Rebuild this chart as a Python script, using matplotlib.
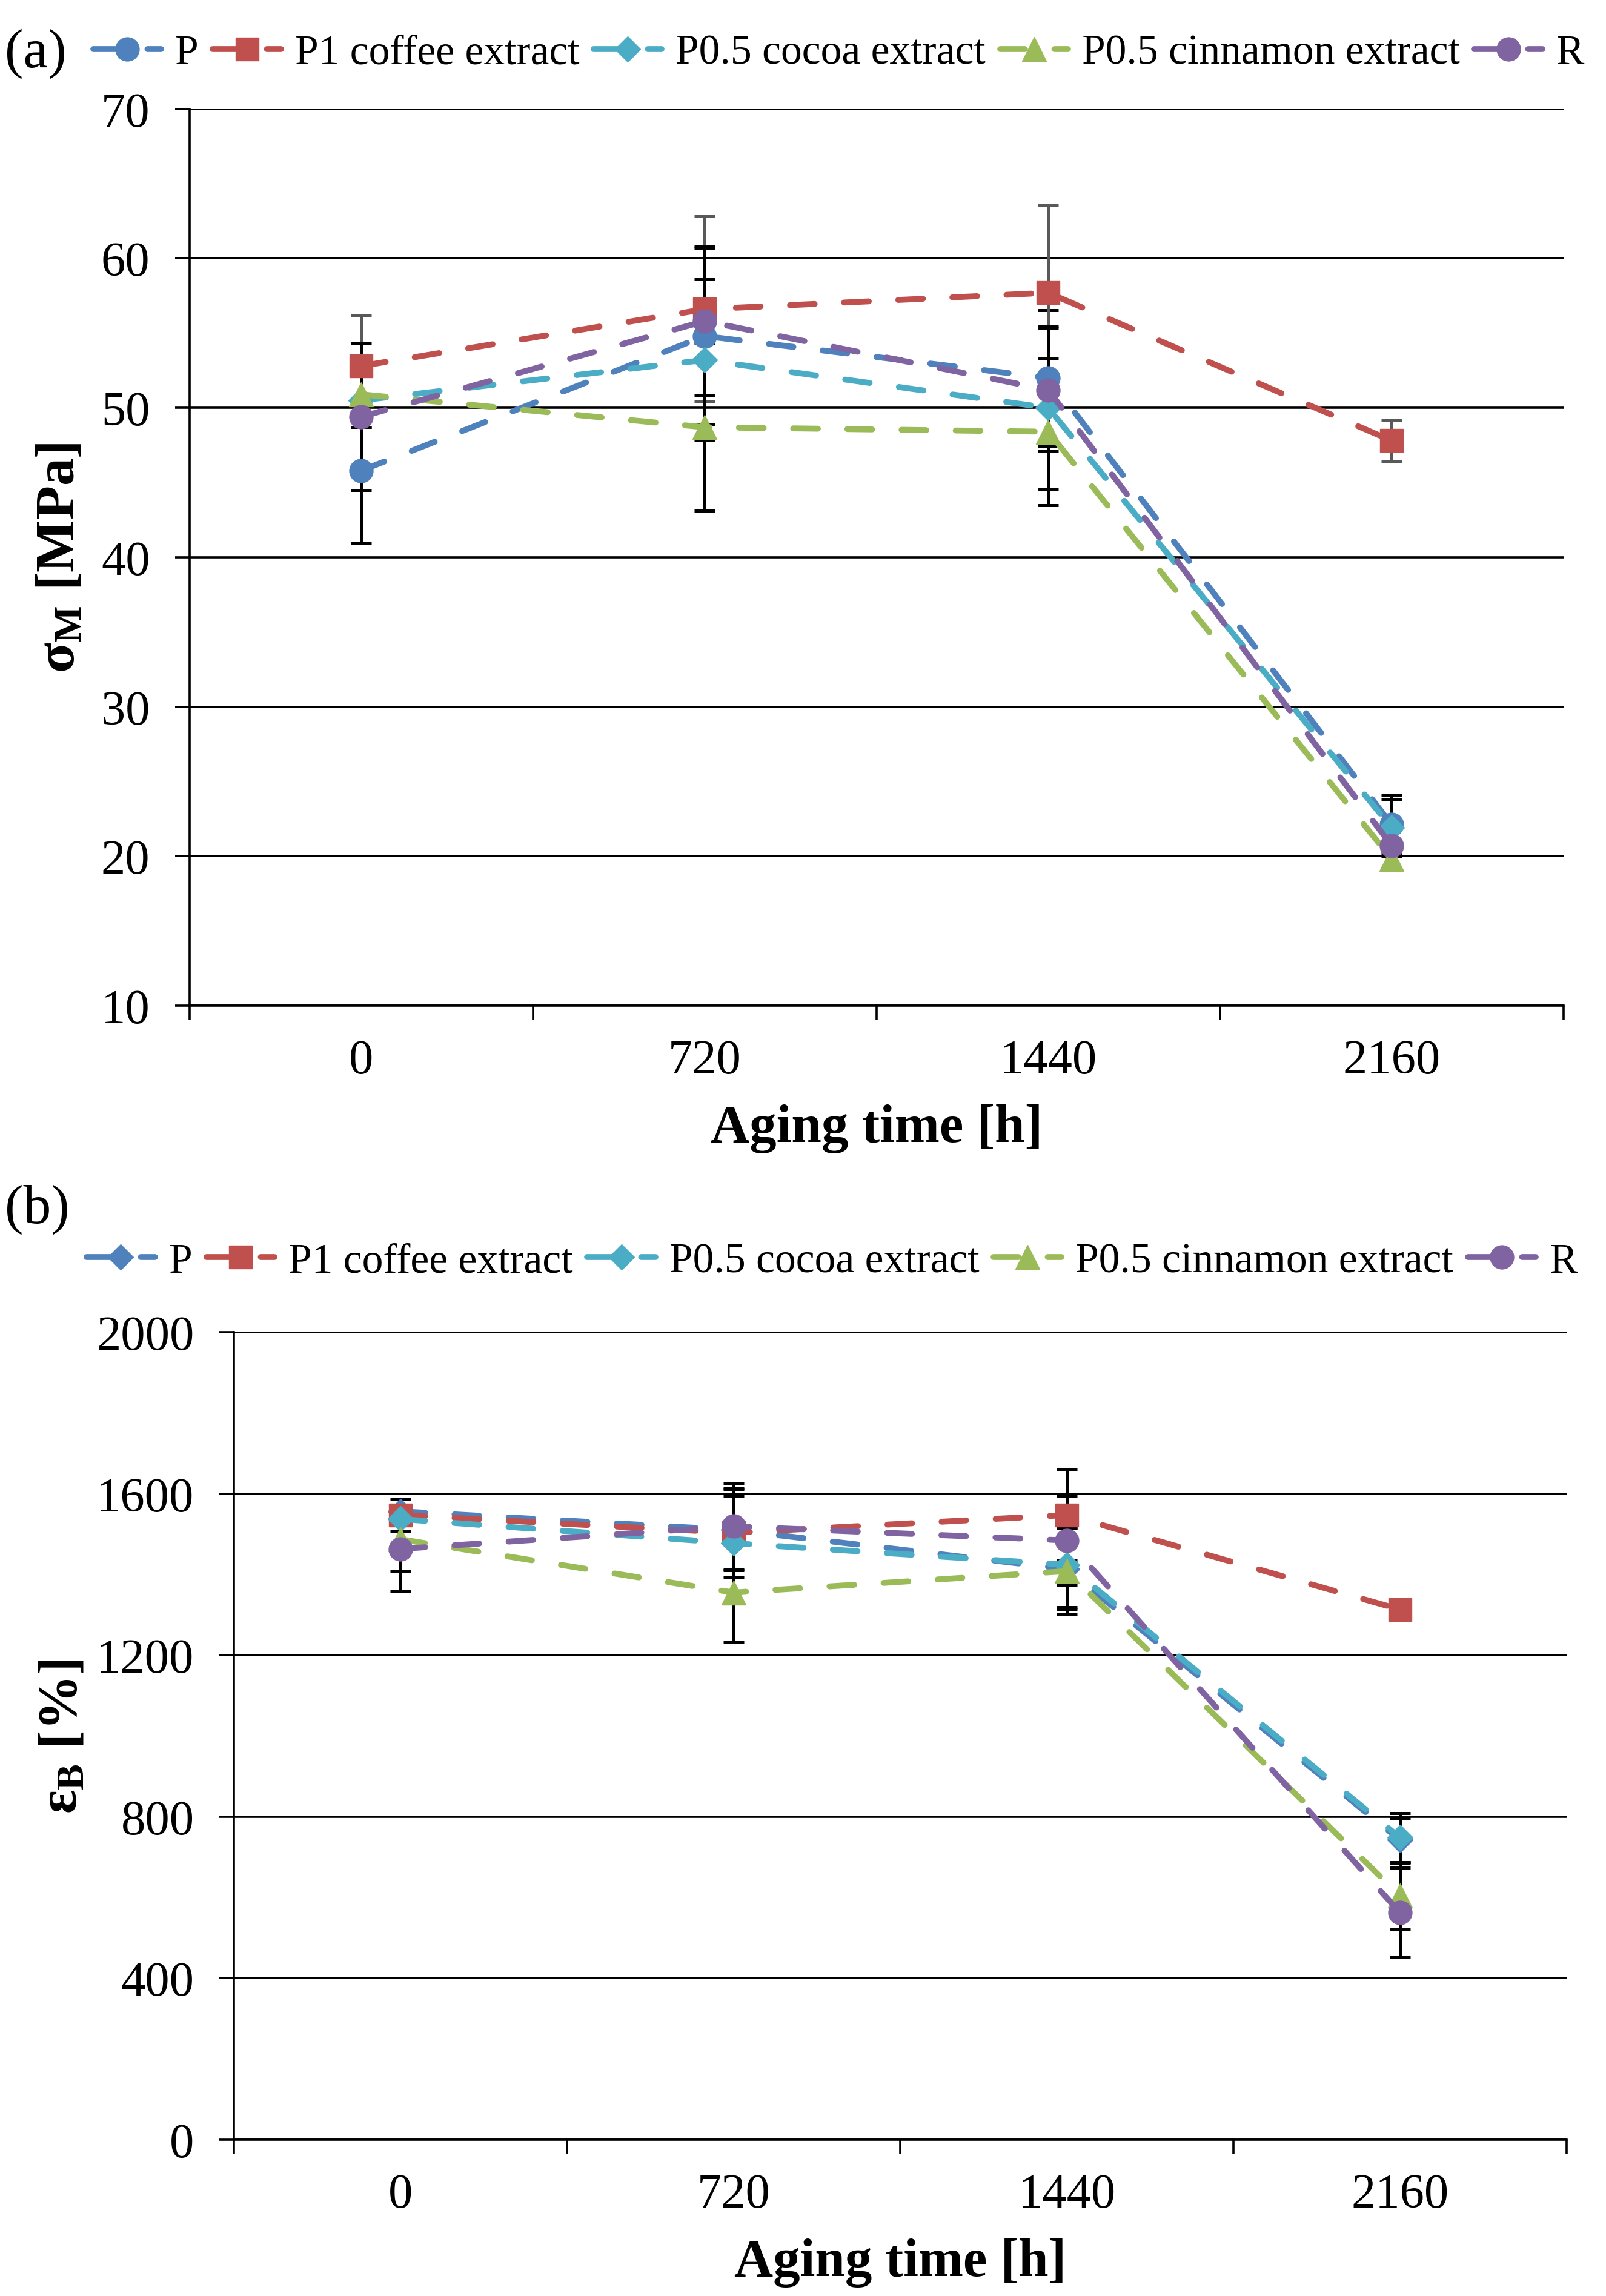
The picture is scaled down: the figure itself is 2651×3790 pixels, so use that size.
import matplotlib
matplotlib.use('Agg')
import matplotlib.pyplot as plt
import numpy as np

plt.rcParams['font.family'] = ['Liberation Serif', 'DejaVu Serif']
plt.rcParams['mathtext.fontset'] = 'custom'
plt.rcParams['mathtext.rm'] = 'Liberation Serif:bold'
plt.rcParams['mathtext.it'] = 'Liberation Serif:bold'
plt.rcParams['mathtext.bf'] = 'Liberation Serif:bold'

# ---------------- data ----------------
aging_time = ['0', '720', '1440', '2160']
series_names = ['P', 'P1 coffee extract', 'P0.5 cocoa extract',
                'P0.5 cinnamon extract', 'R']
colors = ['#4F81BD', '#C0504D', '#4BACC6', '#9BBB59', '#8064A2']

# (a) tensile strength sigma_M [MPa]
sigma_P = [45.8, 54.8, 52.0, 22.1]
sigma_coffee = [52.8, 56.6, 57.7, 47.8]
sigma_cocoa = [50.5, 53.2, 50.0, 21.9]
sigma_cinnamon = [50.9, 48.7, 48.4, 19.8]
sigma_R = [49.4, 55.8, 51.2, 20.7]

sigma_err_P = [4.85, 5.9, 4.55, 1.95]
sigma_err_coffee = [3.4, 6.2, 5.85, 1.4]
sigma_err_cocoa = [1.8, 5.4, 5.45, 1.9]
sigma_err_cinnamon = [2.2, 5.6, 4.9, 0.6]
sigma_err_R = [4.9, 5.0, 4.1, 1.5]

# (b) elongation at break eps_B [%]
eps_P = [1556, 1510, 1413, 742]
eps_coffee = [1547, 1503, 1547, 1313]
eps_cocoa = [1537, 1477, 1424, 748]
eps_cinnamon = [1487, 1355, 1408, 604]
eps_R = [1463, 1519, 1484, 562]

eps_err_P = [30, 100, 100, 55]
eps_err_coffee = [20, 110, 113, 20]
eps_err_cocoa = [30, 118, 105, 61]
eps_err_cinnamon = [80, 124, 107, 82]
eps_err_R = [104, 108, 110, 111]

yticks_a = [10, 20, 30, 40, 50, 60, 70]
yticks_b = [0, 400, 800, 1200, 1600, 2000]

# ---------------- styling ----------------
markers_a = ['o', 's', 'D', '^', 'o']
markers_b = ['D', 's', 'D', '^', 'o']
msizes = {'o': 28, 's': 27, 'D': 21, '^': 29}
err_colors_a = ['black', '#595959', 'black', 'black', 'black']
err_colors_b = ['black'] * 5

TICK_FS = 58
XLABEL_FS = 64
YLABEL_FS = 66
LEG_FS = 50
LW_AX = 2.6

fig = plt.figure(figsize=(26.51, 37.91), dpi=100)
ax_a = fig.add_axes([0.118, 0.5619, 0.8555, 0.3904])
ax_b = fig.add_axes([0.1456, 0.0681, 0.8299, 0.3516])


def draw(ax, vals, errs, markers, ecolors, ticks):
    x = np.arange(len(aging_time))
    handles = []
    for i, (v, e) in enumerate(zip(vals, errs)):
        ax.errorbar(x, v, yerr=e, fmt='none', ecolor=ecolors[i],
                    elinewidth=3.6, capsize=12, capthick=3.6, zorder=2.5)
    for i, v in enumerate(vals):
        m = markers[i]
        ln, = ax.plot(x, v, color=colors[i], lw=7,
                      linestyle=(0, (4.2, 5.0)), dash_capstyle='round',
                      marker=m, ms=msizes[m], mfc=colors[i], mec=colors[i],
                      zorder=3 + i, label=series_names[i])
        handles.append(ln)
    ax.set_xlim(-0.5, len(aging_time) - 0.5)
    ax.set_ylim(ticks[0], ticks[-1])
    ax.set_yticks(ticks)
    ax.set_xticks(x)
    ax.set_xticklabels(aging_time)
    ax.set_xticks(np.arange(-0.5, len(aging_time)), minor=True)
    ax.tick_params(axis='x', which='major', length=0, pad=40,
                   labelsize=TICK_FS)
    ax.tick_params(axis='x', which='minor', length=17, width=LW_AX,
                   direction='out')
    ax.tick_params(axis='y', which='major', length=17, width=LW_AX,
                   direction='out', pad=30, labelsize=TICK_FS)
    ax.yaxis.grid(True, color='black', lw=LW_AX)
    ax.set_axisbelow(True)
    for s in ['top', 'right']:
        ax.spines[s].set_visible(False)
    for s in ['left', 'bottom']:
        ax.spines[s].set_linewidth(LW_AX)
    ax.set_xlabel('Aging time [h]', fontsize=XLABEL_FS, fontweight='bold',
                  labelpad=24)
    return handles


vals_a = [sigma_P, sigma_coffee, sigma_cocoa, sigma_cinnamon, sigma_R]
errs_a = [sigma_err_P, sigma_err_coffee, sigma_err_cocoa,
          sigma_err_cinnamon, sigma_err_R]
vals_b = [eps_P, eps_coffee, eps_cocoa, eps_cinnamon, eps_R]
errs_b = [eps_err_P, eps_err_coffee, eps_err_cocoa, eps_err_cinnamon,
          eps_err_R]

h_a = draw(ax_a, vals_a, errs_a, markers_a, err_colors_a, yticks_a)
h_b = draw(ax_b, vals_b, errs_b, markers_b, err_colors_b, yticks_b)

ax_a.set_ylabel('σ$_{\\mathrm{M}}$ [MPa]', fontsize=YLABEL_FS,
                fontweight='bold')
ax_a.yaxis.set_label_coords(-0.0754, 0.5)
ax_b.set_ylabel('ε$_{\\mathrm{B}}$ [%]', fontsize=YLABEL_FS,
                fontweight='bold')
ax_b.yaxis.set_label_coords(-0.1095, 0.5)

leg_kw = dict(ncol=5, frameon=False, fontsize=LEG_FS, handlelength=1.62,
              handletextpad=0.33, columnspacing=0.34, borderpad=0,
              borderaxespad=0, loc='center left', numpoints=1)
fig.legend(h_a, series_names, bbox_to_anchor=(0.058, 0.9765), **leg_kw)
fig.legend(h_b, series_names, bbox_to_anchor=(0.054, 0.4503), **leg_kw)

fig.text(0.003, 0.9765, '(a)', fontsize=66, va='center', ha='left')
fig.text(0.003, 0.4732, '(b)', fontsize=66, va='center', ha='left')

fig.savefig('out.png', dpi=100)
